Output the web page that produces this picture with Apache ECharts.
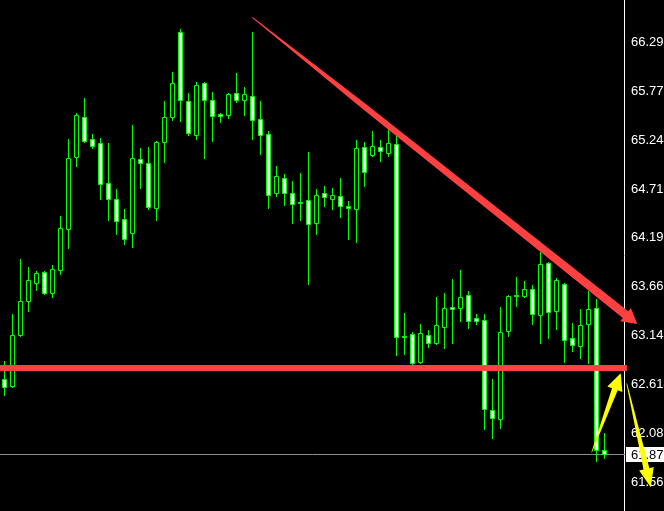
<!DOCTYPE html>
<html><head><meta charset="utf-8">
<script src="https://cdn.jsdelivr.net/npm/echarts@6/dist/echarts.min.js"></script>
<style>html,body{margin:0;padding:0;background:#000}#c{width:664px;height:511px}</style>
</head><body><div id="c"></div>
<script>
// Candle data (index = bar number, left to right)
const opens  = [62.670,62.598,63.150,63.516,63.703,63.821,63.596,63.843,64.291,65.065,65.489,65.256,65.209,64.779,64.607,64.392,64.247,65.037,64.994,64.516,65.227,65.496,66.404,65.661,65.302,65.855,65.672,65.521,65.517,65.747,65.678,65.715,65.468,65.306,64.678,64.833,64.671,64.581,64.596,64.355,64.671,64.613,64.646,64.532,64.506,65.166,65.080,65.166,65.108,65.199,63.139,63.154,62.853,63.150,63.058,63.236,63.445,63.434,63.574,63.327,63.305,62.337,62.240,63.187,63.580,63.563,63.639,63.359,63.918,63.402,63.692,63.111,63.025,63.262,63.434,61.906];
const highs  = [62.867,63.373,63.965,63.878,63.835,63.835,63.900,64.427,65.256,65.532,65.697,65.309,65.266,65.213,64.718,64.502,65.406,65.159,65.170,65.234,65.664,65.976,66.439,65.751,65.869,65.869,65.761,65.535,65.751,65.966,65.815,66.407,65.664,65.342,64.965,64.879,64.804,64.890,65.116,64.718,64.750,64.728,64.836,64.589,65.245,65.223,65.342,65.245,65.374,65.302,63.387,63.179,63.265,63.201,63.556,63.599,63.749,63.846,63.620,63.370,63.370,62.673,63.448,63.574,63.771,63.728,63.685,64.043,63.929,63.757,63.703,63.273,63.423,63.623,63.531,62.096];
const lows   = [62.501,62.591,63.136,63.408,63.631,63.588,63.559,63.806,64.083,64.968,65.227,65.162,64.610,64.384,64.234,64.126,64.094,64.728,64.502,64.384,65.011,65.460,65.449,65.299,65.259,65.054,65.237,65.442,65.485,65.657,65.517,65.259,65.097,64.516,64.646,64.549,64.355,64.384,63.699,64.237,64.538,64.506,64.420,64.183,64.151,64.753,65.073,65.022,65.076,62.935,62.946,62.832,62.845,63.015,63.050,63.010,63.064,63.301,63.225,63.268,62.139,62.042,62.149,63.139,63.462,63.556,63.268,63.064,63.118,63.215,62.860,62.978,62.903,62.842,61.794,61.820];
const closes = [62.591,63.144,63.509,63.739,63.811,63.602,63.854,64.295,65.048,65.511,65.237,65.184,64.768,64.613,64.377,64.183,65.048,65.001,64.527,65.220,65.489,65.855,65.672,65.323,65.833,65.672,65.506,65.500,65.737,65.672,65.737,65.457,65.295,64.650,64.854,64.678,64.553,64.581,64.338,64.650,64.628,64.650,64.538,64.510,65.156,64.897,65.177,65.130,65.209,63.122,63.139,62.842,63.165,63.058,63.251,63.434,63.423,63.552,63.301,63.294,62.347,62.251,63.176,63.563,63.580,63.639,63.373,63.908,63.391,63.735,63.090,63.036,63.251,63.423,61.913,61.870];

// Price scale tick labels
const tickValues = [61.562,62.088,62.614,63.140,63.666,64.192,64.718,65.244,65.770,66.296];
const currentPrice = 61.870;

// Annotations in data coordinates [barIndex, price]
const supportLine = [[-0.5, 62.794],[77.86, 62.794]];
const trendArrow  = [[31.04, 66.565],[79.16, 63.265]];
const yellowArrowUp   = [[73.46, 61.885],[77.09, 62.735]];
const yellowArrowDown = [[77.84, 62.627],[80.84, 61.508]];

const candleData = opens.map((o, i) => [i, o, closes[i], lows[i], highs[i]]);

function renderCandle(params, api) {
  const i = api.value(0), o = api.value(1), c = api.value(2), l = api.value(3), h = api.value(4);
  const pO = api.coord([i, o]), pC = api.coord([i, c]), pL = api.coord([i, l]), pH = api.coord([i, h]);
  const x = Math.floor(pO[0] + 0.01) + 0.5;
  const yTop = Math.round(Math.min(pO[1], pC[1])) + 0.5;
  const yBot = Math.round(Math.max(pO[1], pC[1])) + 0.5;
  const yH = Math.round(pH[1]), yL = Math.round(pL[1]) + 1;
  const up = c > o;
  return {type: 'group', children: [
    {type: 'line', shape: {x1: x, y1: yH, x2: x, y2: yL}, style: {stroke: '#00ff00', lineWidth: 1}},
    {type: 'rect', shape: {x: x - 2, y: yTop, width: 4, height: Math.max(yBot - yTop, 1)},
     style: {fill: up ? '#000000' : '#ffffff', stroke: '#00ff00', lineWidth: 1}}
  ]};
}

function arrowPoints(S, T, profile, hl, hw) {
  const dx = T[0] - S[0], dy = T[1] - S[1];
  const len = Math.sqrt(dx * dx + dy * dy);
  const ux = dx / len, uy = dy / len, nx = -uy, ny = ux;
  const bl = len - hl;
  const left = [], right = [];
  profile.forEach(([t, w]) => {
    const px = S[0] + ux * bl * t, py = S[1] + uy * bl * t;
    left.push([px + nx * w, py + ny * w]);
    right.unshift([px - nx * w, py - ny * w]);
  });
  const Bx = S[0] + ux * bl, By = S[1] + uy * bl;
  return left.concat([[Bx + nx * hw, By + ny * hw], T, [Bx - nx * hw, By - ny * hw]]).concat(right);
}

function arrowSeries(pts, color, profile, hl, hw) {
  return {
    type: 'custom', clip: false, z: 5, silent: true,
    data: [[pts[0][0], pts[0][1], pts[1][0], pts[1][1]]],
    renderItem: (params, api) => {
      const S = api.coord([api.value(0), api.value(1)]);
      const T = api.coord([api.value(2), api.value(3)]);
      return {type: 'polygon', shape: {points: arrowPoints(S, T, profile, hl, hw)}, style: {fill: color}};
    }
  };
}

const chart = echarts.init(document.getElementById('c'), null, {renderer: 'canvas'});
chart.setOption({
  backgroundColor: '#000000',
  animation: false,
  grid: {left: 0, right: 40, top: 0, bottom: 0, containLabel: false, outerBoundsMode: 'none'},
  xAxis: {type: 'value', min: -0.5, max: 77.5, show: false},
  yAxis: {
    type: 'value', position: 'right', min: 61.2532, max: 66.7511, scale: true,
    axisLine: {show: true, onZero: false, lineStyle: {color: '#ffffff', width: 1}},
    axisTick: {show: false},
    splitLine: {show: false},
    axisLabel: {
      customValues: tickValues, margin: 7, color: '#ffffff',
      fontFamily: 'Liberation Sans', fontSize: 13,
      formatter: v => v.toFixed(3)
    }
  },
  series: [
    { // current price line
      type: 'custom', clip: false, z: 1, silent: true,
      data: [[currentPrice]],
      renderItem: (params, api) => {
        const p = api.coord([-0.5, api.value(0)]);
        const p2 = api.coord([77.5, api.value(0)]);
        const y = Math.round(p[1]) + 0.5;
        return {type: 'line', shape: {x1: p[0], y1: y, x2: p2[0] + 1, y2: y}, style: {stroke: '#8e8e8e', lineWidth: 1}};
      }
    },
    {
      type: 'custom', z: 2, clip: false, silent: true,
      data: candleData,
      encode: {x: 0, y: [1, 2, 3, 4]},
      renderItem: renderCandle
    },
    { // support line
      type: 'custom', clip: false, z: 4, silent: true,
      data: [[supportLine[0][0], supportLine[0][1], supportLine[1][0], supportLine[1][1]]],
      renderItem: (params, api) => {
        const a = api.coord([api.value(0), api.value(1)]);
        const b = api.coord([api.value(2), api.value(3)]);
        return {type: 'rect', shape: {x: a[0], y: Math.round(a[1]) - 3, width: b[0] - a[0], height: 6}, style: {fill: '#ff4040'}};
      }
    },
    arrowSeries(trendArrow, '#ff4040', [[0, 0.5], [0.3, 3.0], [1, 4.4]], 15, 8.5),
    arrowSeries(yellowArrowUp, '#ffff00', [[0, 0.3], [1, 3.0]], 17, 8),
    arrowSeries(yellowArrowDown, '#ffff00', [[0, 0.3], [1, 3.0]], 19, 7.5),
    { // current price label
      type: 'custom', clip: false, z: 3, silent: true,
      data: [[currentPrice]],
      renderItem: (params, api) => {
        const p = api.coord([77.5, api.value(0)]);
        const y = Math.round(p[1]);
        return {type: 'group', children: [
          {type: 'rect', shape: {x: p[0] + 2, y: y - 7, width: 60, height: 15}, style: {fill: '#ffffff'}},
          {type: 'text', style: {x: p[0] + 7, y: y + 1, text: api.value(0).toFixed(3), fill: '#000000',
            font: '13px "Liberation Sans"', verticalAlign: 'middle', align: 'left'}}
        ]};
      }
    }
  ]
});
</script></body></html>
